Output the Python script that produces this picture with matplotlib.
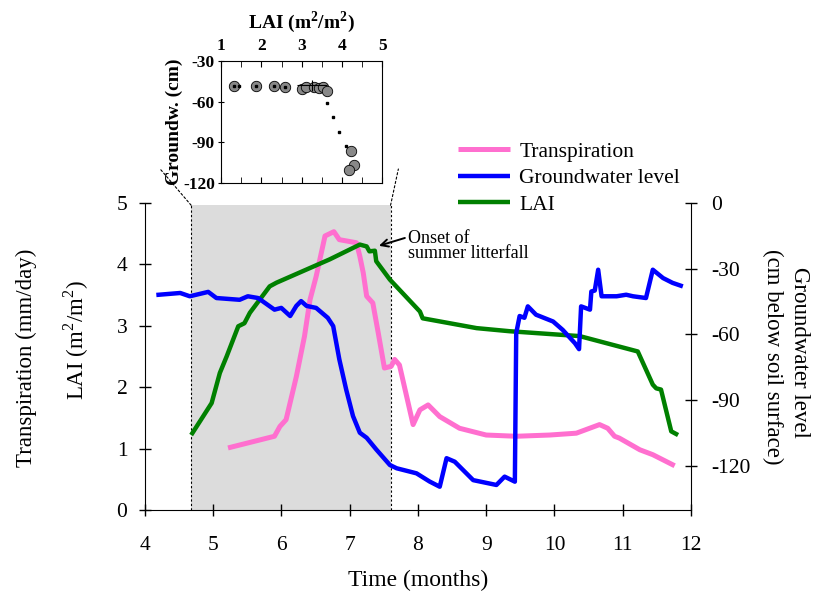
import matplotlib
matplotlib.use('Agg')
import matplotlib.pyplot as plt
from matplotlib.patches import ConnectionPatch

plt.rcParams['font.family'] = ['Liberation Serif', 'DejaVu Serif']
plt.rcParams['mathtext.fontset'] = 'custom'
plt.rcParams['mathtext.rm'] = 'Liberation Serif'
plt.rcParams['mathtext.bf'] = 'Liberation Serif:bold'
plt.rcParams['axes.unicode_minus'] = False

# transpiration (mm/day) vs time (months)
tr_t = [5.22, 5.90, 5.98, 6.07, 6.22, 6.34, 6.42, 6.51, 6.64, 6.77, 6.85, 7.10, 7.15, 7.20,
        7.25, 7.34, 7.42, 7.51, 7.61, 7.66, 7.73, 7.93, 8.03, 8.15, 8.32, 8.61, 9.00, 9.44,
        9.93, 10.32, 10.66, 10.78, 10.88, 10.95, 11.25, 11.44, 11.76]
tr_v = [1.01, 1.20, 1.36, 1.47, 2.17, 2.83, 3.42, 3.80, 4.46, 4.53, 4.40, 4.35, 4.13, 3.86,
        3.48, 3.37, 2.88, 2.31, 2.34, 2.45, 2.36, 1.39, 1.63, 1.71, 1.52, 1.33, 1.22, 1.20,
        1.22, 1.25, 1.39, 1.33, 1.20, 1.17, 0.98, 0.90, 0.72]

# groundwater level (cm below soil surface)
gw_t = [4.17, 4.52, 4.66, 4.93, 5.05, 5.39, 5.51, 5.66, 5.90, 6.00, 6.13, 6.22, 6.29, 6.37,
        6.51, 6.68, 6.76, 6.85, 6.95, 7.05, 7.15, 7.25, 7.39, 7.59, 7.69, 7.88, 7.98, 8.17,
        8.32, 8.42, 8.54, 8.81, 9.15, 9.27, 9.42, 9.44, 9.49, 9.56, 9.61, 9.73, 9.98, 10.12,
        10.30, 10.36, 10.39, 10.52, 10.54, 10.59, 10.64, 10.69, 10.91, 11.05, 11.15, 11.34,
        11.44, 11.59, 11.73, 11.88]
gw_v = [-42, -41.1, -42.6, -40.6, -43.4, -44.2, -42.6, -43.4, -48.7, -47.9, -51.6, -47, -44.8,
        -47, -47.9, -52.4, -56.2, -71.4, -85.1, -97.2, -104.8, -107.1, -112.4, -119.5, -121,
        -122.5, -123.3, -127, -129.4, -116.4, -118, -126.4, -128.6, -124.8, -127.1, -59.4,
        -51.6, -52.4, -47.2, -51, -54.1, -57.9, -64, -66.7, -47.2, -48.7, -40.4, -40, -30.5,
        -42.6, -42.6, -41.9, -42.6, -43.4, -30.5, -34.3, -36.5, -38.1]

# LAI (m2/m2)
lai_t = [4.68, 4.98, 5.10, 5.20, 5.37, 5.46, 5.54, 5.83, 5.93, 6.71, 7.15, 7.25, 7.29, 7.37,
         7.39, 7.59, 8.03, 8.07, 8.86, 9.34, 10.37, 11.22, 11.44, 11.49, 11.56, 11.71, 11.81]
lai_v = [1.22, 1.74, 2.23, 2.50, 2.99, 3.04, 3.21, 3.64, 3.70, 4.08, 4.32, 4.29, 4.21, 4.22,
         4.05, 3.75, 3.23, 3.12, 2.96, 2.91, 2.83, 2.58, 2.04, 1.98, 1.96, 1.28, 1.22]

# inset: groundwater vs LAI
ins_lai = [1.31, 1.87, 2.32, 2.58, 3.00, 3.12, 3.31, 3.42, 3.52, 3.64, 4.23, 4.29, 4.18]
ins_gw = [-48.5, -48.5, -48.5, -49.5, -51, -49.5, -49.5, -50, -49, -52, -96.7, -106.8, -110.7]
dot_lai = [1.31, 1.45, 1.87, 2.32, 2.58, 3.62, 3.77, 3.93, 4.10]
dot_gw = [-48.5, -48.5, -48.5, -48.5, -49.5, -61.3, -71.7, -82.3, -92.9]

shade_start, shade_end, shade_top = 4.68, 7.60, 4.96

fig = plt.figure(figsize=(8.13, 5.93), dpi=100)
ax = fig.add_axes([0.178, 0.140, 0.672, 0.518])
ax2 = ax.twinx()

ax.axvspan(shade_start, shade_end, ymax=shade_top / 5, color='#dcdcdc', lw=0, zorder=0)
ax.vlines([shade_start, shade_end], 0, shade_top, colors='black', linestyles=(0, (2, 2)), lw=0.8)

l1, = ax.plot(tr_t, tr_v, color='#ff6fcf', lw=3.6, solid_capstyle='butt', label='Transpiration')
l3, = ax.plot(lai_t, lai_v, color='#008000', lw=3.2, solid_capstyle='butt', label='LAI')
l2, = ax2.plot(gw_t, gw_v, color='#0000ff', lw=3.2, solid_capstyle='butt', label='Groundwater level')

ax.set_xlim(4, 12)
ax.set_ylim(0, 5)
ax2.set_ylim(-140, 0)
ax.set_xticks(range(4, 13))
ax.set_yticks(range(0, 6))
ax2.set_yticks([0, -30, -60, -90, -120])

for a in (ax, ax2):
    a.spines['top'].set_visible(False)
ax.spines['right'].set_visible(False)
ax2.spines['left'].set_visible(False)
ax2.spines['bottom'].set_visible(False)
ax.tick_params(direction='inout', length=9, labelsize=15.5, width=1)
ax.tick_params(axis='x', pad=14)
ax.tick_params(axis='y', pad=8)
ax2.tick_params(direction='inout', length=9, labelsize=15.5, width=1, pad=10)

ax.set_xlabel('Time (months)', fontsize=17, labelpad=11)
fig.text(0.033, 0.396, 'Transpiration (mm/day)', rotation=90, ha='center', va='center', fontsize=16.5)
fig.text(0.094, 0.426, 'LAI (m$^2$/m$^2$)', rotation=90, ha='center', va='center', fontsize=16.5)
fig.text(0.984, 0.405, 'Groundwater level', rotation=270, ha='center', va='center', fontsize=16.5)
fig.text(0.950, 0.398, '(cm below soil surface)', rotation=270, ha='center', va='center', fontsize=16.5)

ax.annotate('Onset of\nsummer litterfall', xy=(7.43, 4.30), xytext=(7.85, 4.56),
            fontsize=13, va='top', ha='left', linespacing=0.85,
            arrowprops=dict(arrowstyle='->', color='black', lw=1.4, shrinkA=0, shrinkB=0,
                            relpos=(0.2, 1.0)))

fig.legend(handles=[l1, l2, l3], loc='upper left', bbox_to_anchor=(0.550, 0.779),
           frameon=False, fontsize=15.5, handlelength=2.4, handletextpad=0.45,
           borderpad=0, labelspacing=0.3)

# inset
ins = fig.add_axes([0.272, 0.692, 0.198, 0.205])
ins.plot(ins_lai, ins_gw, 'o', ms=7.5, mfc='#888888', mec='black', mew=0.6, ls='none')
ins.plot(dot_lai, dot_gw, 's', ms=1.6, color='black', ls='none')
ins.errorbar([3.25], [-48], xerr=[0.37], yerr=[4], fmt='none', ecolor='black', elinewidth=0.8)
ins.set_xlim(1, 5)
ins.set_ylim(-120, -30)
ins.set_xticks([1, 2, 3, 4, 5])
ins.set_xticks([1.5, 2.5, 3.5, 4.5], minor=True)
ins.set_yticks([-30, -60, -90, -120])
ins.xaxis.tick_top()
ins.xaxis.set_label_position('top')
ins.tick_params(axis='x', which='both', direction='in', top=True, bottom=True, length=4)
ins.tick_params(axis='y', direction='inout', length=5)
ins.tick_params(labelsize=12.5, pad=2)
ins.tick_params(axis='x', pad=5)
for lab in ins.get_xticklabels() + ins.get_yticklabels():
    lab.set_fontweight('bold')
ins.set_xlabel(r'LAI (m$^\mathbf{2}$/m$^\mathbf{2}$)', fontsize=14, fontweight='bold', labelpad=7)
ins.set_ylabel('Groundw. (cm)', fontsize=14, fontweight='bold', labelpad=0)

# dashed connectors from shaded block to inset
for xs, fx in ((shade_start, 0.197), (shade_end, 0.490)):
    con = ConnectionPatch(xyA=(xs, shade_top), coordsA='data', axesA=ax,
                          xyB=(fx, 0.715), coordsB='figure fraction',
                          linestyle=(0, (2, 2)), lw=0.8, color='black')
    fig.add_artist(con)

fig.savefig('out.png', dpi=100)
